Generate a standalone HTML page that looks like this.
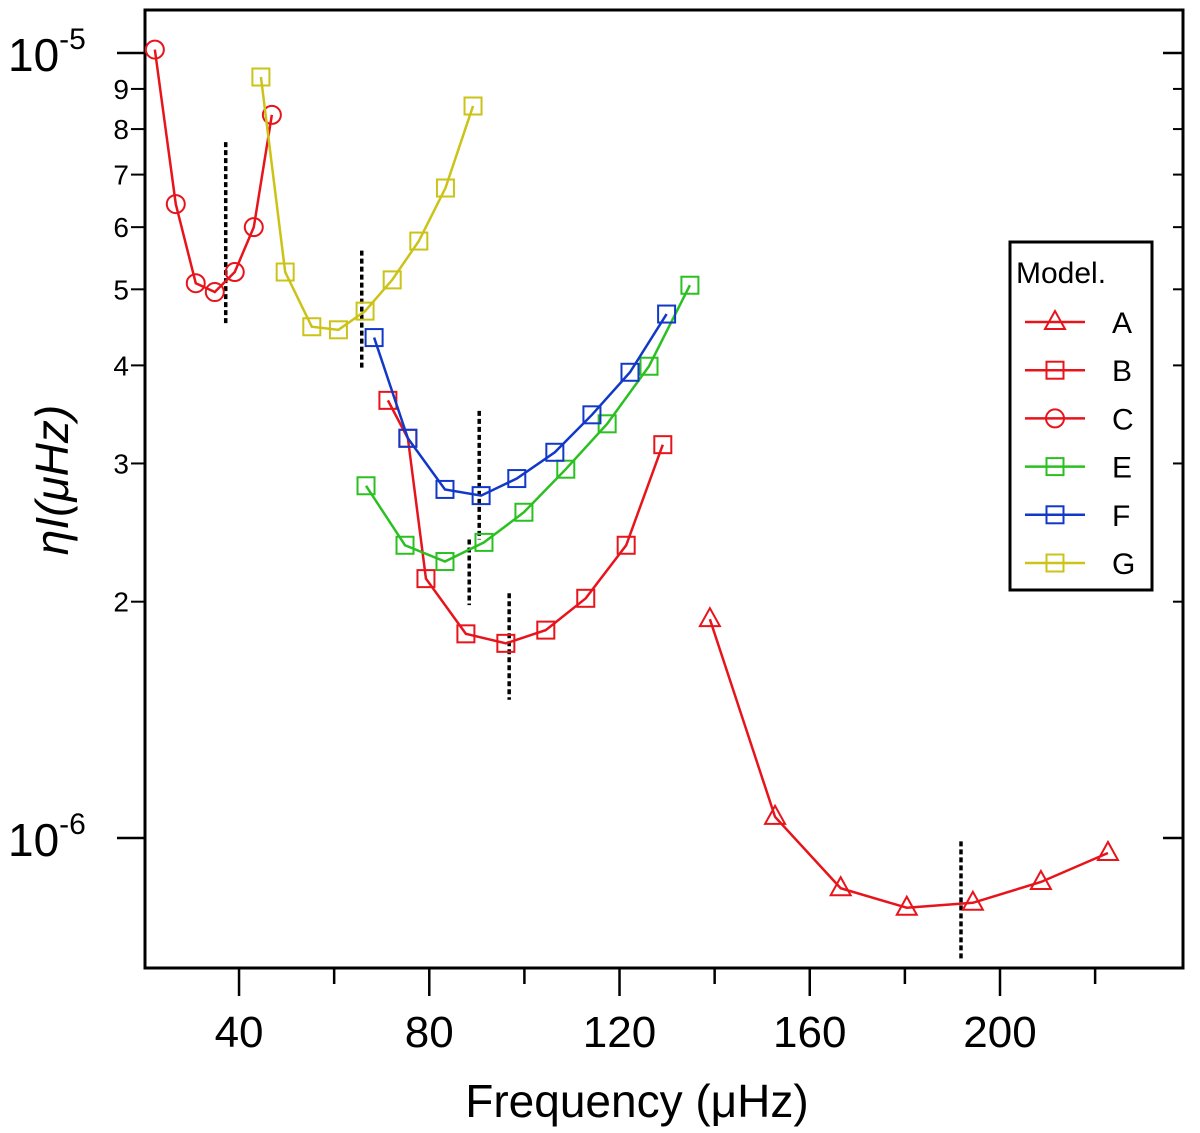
<!DOCTYPE html>
<html><head><meta charset="utf-8"><style>
body{margin:0;background:#fff}
svg text{font-family:"Liberation Sans",sans-serif}
</style></head><body>
<svg id="chart" width="1200" height="1128" viewBox="0 0 1200 1128" xmlns="http://www.w3.org/2000/svg">
<g id="marks"></g>
</svg>
<script>
const xTicks=[40,80,120,160,200];
const yMinorTicks=[2,3,4,5,6,7,8,9,20,30,40,50,60,70,80,90];
const aX=[139.0,152.7,166.5,180.4,194.3,208.6,222.7];
const aY=[1.90,1.064,0.863,0.815,0.827,0.879,0.957];
const bX=[71.3,75.5,79.3,87.7,96.1,104.5,112.9,121.4,129.1];
const bY=[3.61,3.23,2.14,1.82,1.77,1.84,2.02,2.36,3.17];
const cX=[22.3,26.7,30.9,34.9,39.1,43.1,46.9];
const cY=[10.1,6.42,5.09,4.96,5.26,6.00,8.34];
const eX=[66.7,74.9,83.3,91.5,99.9,108.7,117.4,126.2,134.8];
const eY=[2.81,2.36,2.25,2.38,2.60,2.95,3.37,3.99,5.06];
const fX=[68.4,75.5,83.3,90.9,98.4,106.4,114.2,122.2,129.9];
const fY=[4.34,3.23,2.78,2.73,2.87,3.10,3.46,3.92,4.65];
const gX=[44.6,49.7,55.3,60.9,66.5,72.2,77.8,83.4,89.2];
const gY=[9.32,5.26,4.48,4.44,4.69,5.14,5.76,6.73,8.56];
const dashX=[37.2,65.8,90.5,88.4,96.8,191.8];
const dashTop=[7.7,5.6,3.5,2.4,2.05,0.99];
const dashBot=[4.5,3.95,2.4,1.98,1.5,0.70];

const L=145,R=1183,T=10,B=968;
const sx=v=>48.8+v*4.756;
const sy=v=>53+(-5-Math.log10(v*1e-6))*785;
const NS="http://www.w3.org/2000/svg";
const svg=document.getElementById('chart');
function el(tag,attrs,parent){const e=document.createElementNS(NS,tag);for(const k in attrs)e.setAttribute(k,attrs[k]);(parent||svg).appendChild(e);return e;}

const frame=el('rect',{x:L,y:T,width:R-L,height:B-T,fill:'none',stroke:'#000','stroke-width':3});



xTicks.forEach(t=>{
  const x=sx(t);
  const tk=el('line',{x1:x,x2:x,y1:B,y2:B+28,stroke:'#000','stroke-width':2.5});
  
  
  const m=el('line',{x1:sx(t+20),x2:sx(t+20),y1:B,y2:B+16,stroke:'#000','stroke-width':2.5});
  
  
  const lb=el('text',{x:x,y:1047,'text-anchor':'middle','font-size':44});
  lb.textContent=t;
  
  
});
const xt=el('text',{x:637,y:1117,'text-anchor':'middle','font-size':46});
xt.textContent='Frequency (μHz)';



[1,10].forEach(v=>{
  const y=sy(v);
  const tk=el('line',{x1:L-28,x2:L,y1:y,y2:y,stroke:'#000','stroke-width':2.5});
  
  
  const tr=el('line',{x1:R-20,x2:R,y1:y,y2:y,stroke:'#000','stroke-width':2.5});
  
  
  const lb=el('text',{x:8,y:y+18,'font-size':46});
  lb.innerHTML='10<tspan font-size="30" dy="-22">-'+(v===1?6:5)+'</tspan>';
  
  
});
yMinorTicks.forEach(v=>{
  const y=sy(v);
  if(y<T||y>B)return;
  const tk=el('line',{x1:L-14,x2:L,y1:y,y2:y,stroke:'#000','stroke-width':2});
  
  
  const tr=el('line',{x1:R-10,x2:R,y1:y,y2:y,stroke:'#000','stroke-width':2});
  
  
  const lb=el('text',{x:129,y:y+10,'text-anchor':'end','font-size':28});
  lb.textContent=v>=10?v/10:v;
  
  
});
const yt=el('text',{x:0,y:0,'text-anchor':'middle','font-size':46,'font-style':'italic','font-family':'Liberation Serif, serif',transform:'translate(68,480) rotate(-90)'});
yt.textContent='ηI(μHz)';



dashX.forEach((d,i)=>{
  const ln=el('line',{x1:sx(d),x2:sx(d),y1:sy(dashTop[i]),y2:sy(dashBot[i]),stroke:'#000','stroke-width':3.5,'stroke-dasharray':'5,3'});
  
  
});

function marker(shape,x,y,color,parent){
  let m;
  if(shape==='sq')m=el('rect',{x:x-8.5,y:y-8.5,width:17,height:17,fill:'none',stroke:color,'stroke-width':2},parent);
  else if(shape==='ci')m=el('circle',{cx:x,cy:y,r:9,fill:'none',stroke:color,'stroke-width':2},parent);
  else m=el('polygon',{points:`${x},${y-11} ${x-10},${y+7} ${x+10},${y+7}`,fill:'none',stroke:color,'stroke-width':2},parent);
  return m;
}
const series=[
 ['model-a',aX,aY,'#e8141b','tr'],
 ['model-b',bX,bY,'#e8141b','sq'],
 ['model-c',cX,cY,'#e8141b','ci'],
 ['model-e',eX,eY,'#2bc021','sq'],
 ['model-f',fX,fY,'#1238c8','sq'],
 ['model-g',gX,gY,'#cbc318','sq']];
series.forEach(([name,xs,ys,col,sh])=>{
  const g=el('g',{});
  
  
  const p=el('polyline',{points:xs.map((x,i)=>sx(x)+','+sy(ys[i])).join(' '),fill:'none',stroke:col,'stroke-width':2.5},g);
  
  
  xs.forEach((x,i)=>{
    const m=marker(sh,sx(x),sy(ys[i]),col,g);
    
    
  });
});

const lg=el('g',{});


el('rect',{x:1010,y:242,width:142,height:348,fill:'#fff',stroke:'#000','stroke-width':3},lg);
const lt=el('text',{x:1016,y:283,'font-size':30},lg);
lt.textContent='Model.';


const labels=['A','B','C','E','F','G'];
series.forEach(([name,,,col,sh],i)=>{
  const y=322+i*48.2;
  const e=el('g',{},lg);
  
  
  el('line',{x1:1025,x2:1085,y1:y,y2:y,stroke:col,'stroke-width':2.5},e);
  marker(sh,1055,y,col,e);
  const t=el('text',{x:1112,y:y+11,'font-size':30},e);
  t.textContent=labels[i];
});
</script>
</body></html>
